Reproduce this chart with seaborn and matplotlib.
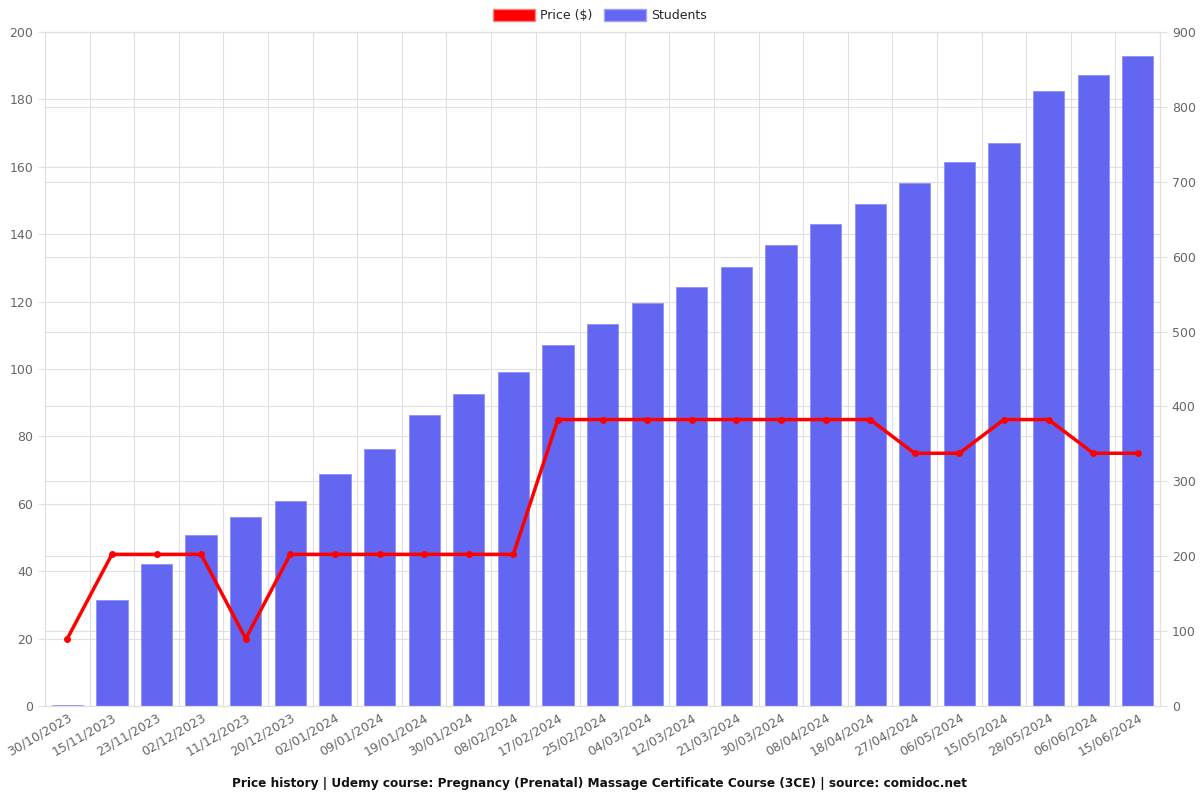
import matplotlib.pyplot as plt
import matplotlib.patches as mpatches
from matplotlib.ticker import FixedLocator, MultipleLocator
import numpy as np
import pandas as pd
import seaborn as sns

# Data
dates = ["30/10/2023", "15/11/2023", "23/11/2023", "02/12/2023", "11/12/2023",
         "20/12/2023", "02/01/2024", "09/01/2024", "19/01/2024", "30/01/2024",
         "08/02/2024", "17/02/2024", "25/02/2024", "04/03/2024", "12/03/2024",
         "21/03/2024", "30/03/2024", "08/04/2024", "18/04/2024", "27/04/2024",
         "06/05/2024", "15/05/2024", "28/05/2024", "06/06/2024", "15/06/2024"]
price = [20, 45, 45, 45, 20, 45, 45, 45, 45, 45, 45, 85, 85, 85, 85, 85, 85,
         85, 85, 75, 75, 85, 85, 75, 75]
students = [1, 142, 190, 228, 252, 274, 310, 343, 388, 417, 446, 482, 510, 538,
            559, 586, 615, 643, 670, 698, 726, 752, 821, 842, 868]

df = pd.DataFrame({"date": dates, "price": price, "students": students})
df["pos"] = np.arange(len(df))

sns.set_style("white")
plt.rcParams['font.family'] = ['DejaVu Sans']

bar_col = "#6366f1"
line_col = "#ff0000"
txt_col = "#666666"
grid_col = "#e0e0e0"

PRICE_MAX = 200
STUD_MAX = 900

fig = plt.figure(figsize=(12, 8), dpi=100)
ax = fig.add_axes([0.0375, 0.1175, 0.9292, 0.8425])

# Students bars (right axis)
sns.barplot(data=df, x="date", y="students", color=bar_col, saturation=1,
            width=0.7, ax=ax, zorder=2, edgecolor="#8f91f5", linewidth=0.6)
ax.set_ylim(0, STUD_MAX)
ax.yaxis.set_major_locator(MultipleLocator(100))

# Price line (left axis)
ax2 = ax.twinx()
sns.lineplot(data=df, x="pos", y="price", color=line_col, linewidth=2.5,
             marker="o", markersize=5, markeredgewidth=0, ax=ax2, zorder=3)
ax2.set_ylim(0, PRICE_MAX)
ax2.yaxis.set_major_locator(MultipleLocator(20))
ax2.set_xlim(-0.5, len(df) - 0.5)
ax.set_xlim(-0.5, len(df) - 0.5)

# swap sides: students on right, price on left
ax.yaxis.tick_right()
ax2.yaxis.tick_left()

# grids (all behind the bars)
ax.xaxis.set_minor_locator(FixedLocator(np.arange(-0.5, len(df), 1)))
ax.grid(True, which="minor", axis="x", color=grid_col, linewidth=0.8, zorder=0)
ax.grid(True, which="major", axis="y", color=grid_col, linewidth=0.8, zorder=0)
ax.set_axisbelow(True)
ax2.grid(False)
for v in np.arange(20, PRICE_MAX + 1, 20):
    ax.axhline(v * STUD_MAX / PRICE_MAX, color=grid_col, linewidth=0.8, zorder=0)

for a in (ax, ax2):
    for s in a.spines.values():
        s.set_color(grid_col)
    a.set_xlabel("")
    a.set_ylabel("")
    a.tick_params(axis="both", colors=txt_col, labelsize=9, length=5,
                  width=0.8, which="both")
    a.tick_params(axis="both", color=grid_col, which="both")

ax.tick_params(axis="x", which="major", length=0)
ax.set_xticks(np.arange(len(df)))
ax.set_xticklabels(dates, rotation=30, ha="right", rotation_mode="anchor")
ax2.tick_params(axis="x", which="both", bottom=False, labelbottom=False)

# legend
handles = [mpatches.Patch(facecolor=line_col, edgecolor="#ff8080", label="Price ($)"),
           mpatches.Patch(facecolor=bar_col, edgecolor="#a0a2f6", label="Students")]
fig.legend(handles=handles, loc="upper center", bbox_to_anchor=(0.5, 1.003),
           ncol=2, frameon=False, fontsize=9, handlelength=3.4,
           handleheight=1.1, columnspacing=0.9, handletextpad=0.4)

fig.text(0.5, 0.021, "Price history | Udemy course: Pregnancy (Prenatal) Massage "
         "Certificate Course (3CE) | source: comidoc.net",
         ha="center", va="center", fontsize=8.7, fontweight="bold", color="#111111")

fig.savefig("out.png", dpi=100)
